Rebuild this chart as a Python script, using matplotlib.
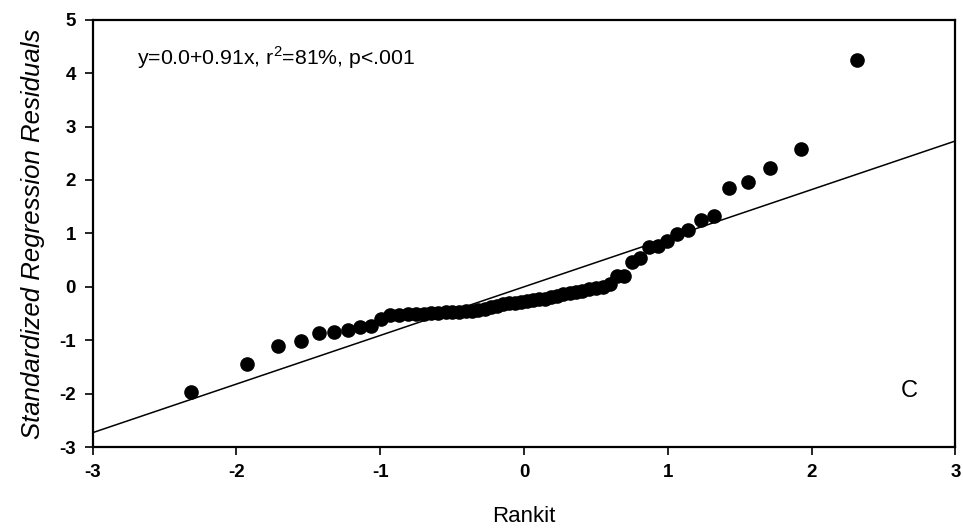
import matplotlib
matplotlib.use("Agg")
import matplotlib.pyplot as plt

# ---- data ----
rankit = [-2.313, -1.928, -1.711, -1.554, -1.428, -1.320, -1.227, -1.142, -1.066, -0.995,
          -0.930, -0.867, -0.808, -0.752, -0.697, -0.646, -0.595, -0.546, -0.498, -0.451,
          -0.406, -0.361, -0.317, -0.274, -0.231, -0.188, -0.146, -0.104, -0.062, -0.021,
          0.021, 0.062, 0.104, 0.146, 0.188, 0.231, 0.274, 0.317, 0.361, 0.406,
          0.451, 0.498, 0.546, 0.595, 0.646, 0.697, 0.752, 0.808, 0.867, 0.930,
          0.995, 1.066, 1.142, 1.227, 1.320, 1.428, 1.554, 1.711, 1.928, 2.313]
residuals = [-1.96, -1.44, -1.11, -1.01, -0.87, -0.85, -0.80, -0.76, -0.73, -0.60,
             -0.53, -0.52, -0.51, -0.50, -0.50, -0.49, -0.49, -0.48, -0.48, -0.47,
             -0.46, -0.45, -0.43, -0.41, -0.38, -0.35, -0.33, -0.31, -0.30, -0.28,
             -0.27, -0.25, -0.23, -0.22, -0.20, -0.17, -0.14, -0.11, -0.09, -0.07,
             -0.04, -0.02, 0.00, 0.05, 0.21, 0.21, 0.47, 0.54, 0.75, 0.77,
             0.85, 0.98, 1.06, 1.25, 1.33, 1.85, 1.96, 2.23, 2.58, 4.24]
intercept = 0.0
slope = 0.91
x_ticks = [-3, -2, -1, 0, 1, 2, 3]
y_ticks = [-3, -2, -1, 0, 1, 2, 3, 4, 5]
annotation = "y=0.0+0.91x, r$^2$=81%, p<.001"
panel_label = "C"

plt.rcParams['font.family'] = ['Liberation Sans', 'DejaVu Sans']
plt.rcParams['axes.unicode_minus'] = False
plt.rcParams['mathtext.fontset'] = 'custom'
plt.rcParams['mathtext.rm'] = 'Liberation Sans'

fig = plt.figure(figsize=(9.63, 5.31), dpi=100)
ax = fig.add_axes([0.0962, 0.158, 0.896, 0.805])

ax.axline((0, intercept), slope=slope, color='black', lw=1.1, zorder=2)
ax.plot(rankit, residuals, 'o', color='black', markersize=9.5, zorder=3)

ax.set_xlim(-3, 3)
ax.set_ylim(-3, 5)
ax.set_xticks(x_ticks)
ax.set_yticks(y_ticks)
ax.tick_params(direction='out', length=6, width=1.2, labelsize=13.5, pad=6)
for lbl in ax.get_xticklabels() + ax.get_yticklabels():
    lbl.set_fontweight('bold')
for s in ax.spines.values():
    s.set_linewidth(1.6)

ax.set_xlabel("Rankit", fontsize=16, labelpad=18)
ax.set_ylabel("Standardized Regression Residuals", fontsize=18.5, style='italic', labelpad=10)

ax.text(0.051, 0.91, annotation, transform=ax.transAxes, fontsize=15.3,
        ha='left', va='center')
ax.text(2.68, -1.95, panel_label, fontsize=17, ha='center', va='center')

fig.savefig("out.png", dpi=100)
